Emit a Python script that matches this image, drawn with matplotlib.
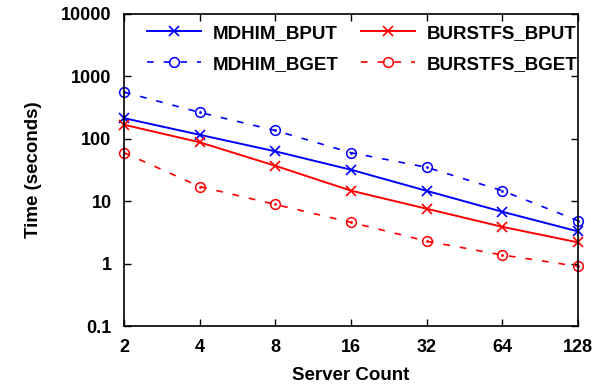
import numpy as np
from matplotlib import pyplot as plt

# Data
servers = [2, 4, 8, 16, 32, 64, 128]
mdhim_bput = [214, 116, 63, 32, 14.7, 6.8, 3.3]
burstfs_bput = [168, 88, 37, 14.8, 7.6, 3.9, 2.2]
mdhim_bget = [560, 265, 136, 60, 35, 14.8, 4.9]
burstfs_bget = [60, 17.2, 8.9, 4.6, 2.3, 1.38, 0.91]

plt.rcParams['font.family'] = ['Liberation Sans', 'DejaVu Sans']
plt.rcParams['font.weight'] = 'bold'

fig = plt.figure(figsize=(6.05, 3.86), dpi=100)
ax = fig.add_axes([0.205, 0.155, 0.750, 0.809])

xs = np.log2(servers)

def draw(y, color, marker, label):
    if marker == 'o':
        line, = ax.plot(xs, y, color=color, ls='--', lw=1.2, marker='o',
                        ms=7, mfc='none', mec=color, mew=1.1, label=label,
                        clip_on=False, dashes=(4, 6))
        ax.plot(xs, y, ls='none', marker='.', ms=2, color=color, clip_on=False)
    else:
        line, = ax.plot(xs, y, color=color, ls='-', lw=1.4, marker='x',
                        ms=7.5, mew=1.2, label=label, clip_on=False)
    return line

h1 = draw(mdhim_bput, 'blue', 'x', 'MDHIM_BPUT')
h2 = draw(burstfs_bput, 'red', 'x', 'BURSTFS_BPUT')
h3 = draw(mdhim_bget, 'blue', 'o', 'MDHIM_BGET')
h4 = draw(burstfs_bget, 'red', 'o', 'BURSTFS_BGET')

ax.set_yscale('log')
ax.set_ylim(0.1, 10000)
ax.set_xlim(xs[0], xs[-1])
ax.set_yticks([0.1, 1, 10, 100, 1000, 10000])
ax.set_yticklabels(['0.1', '1', '10', '100', '1000', '10000'])
ax.minorticks_off()
ax.set_xticks(xs)
ax.set_xticklabels([str(s) for s in servers])
ax.tick_params(direction='in', top=True, right=True, labelsize=13, length=5, width=1)
ax.tick_params(axis='y', pad=9)
ax.tick_params(axis='x', pad=9)
for s in ax.spines.values():
    s.set_linewidth(1.2)

ax.set_xlabel('Server Count', fontsize=13.5, fontweight='bold', labelpad=8)
ax.set_ylabel('Time (seconds)', fontsize=13.5, fontweight='bold', labelpad=14)

ax.legend(handles=[h1, h3, h2, h4], ncol=2, frameon=False, fontsize=13.5,
          loc='upper left', bbox_to_anchor=(0.013, 1.02), handlelength=2.9,
          columnspacing=1.2, handletextpad=0.6, labelspacing=0.75)

plt.savefig('out.png', dpi=100)
